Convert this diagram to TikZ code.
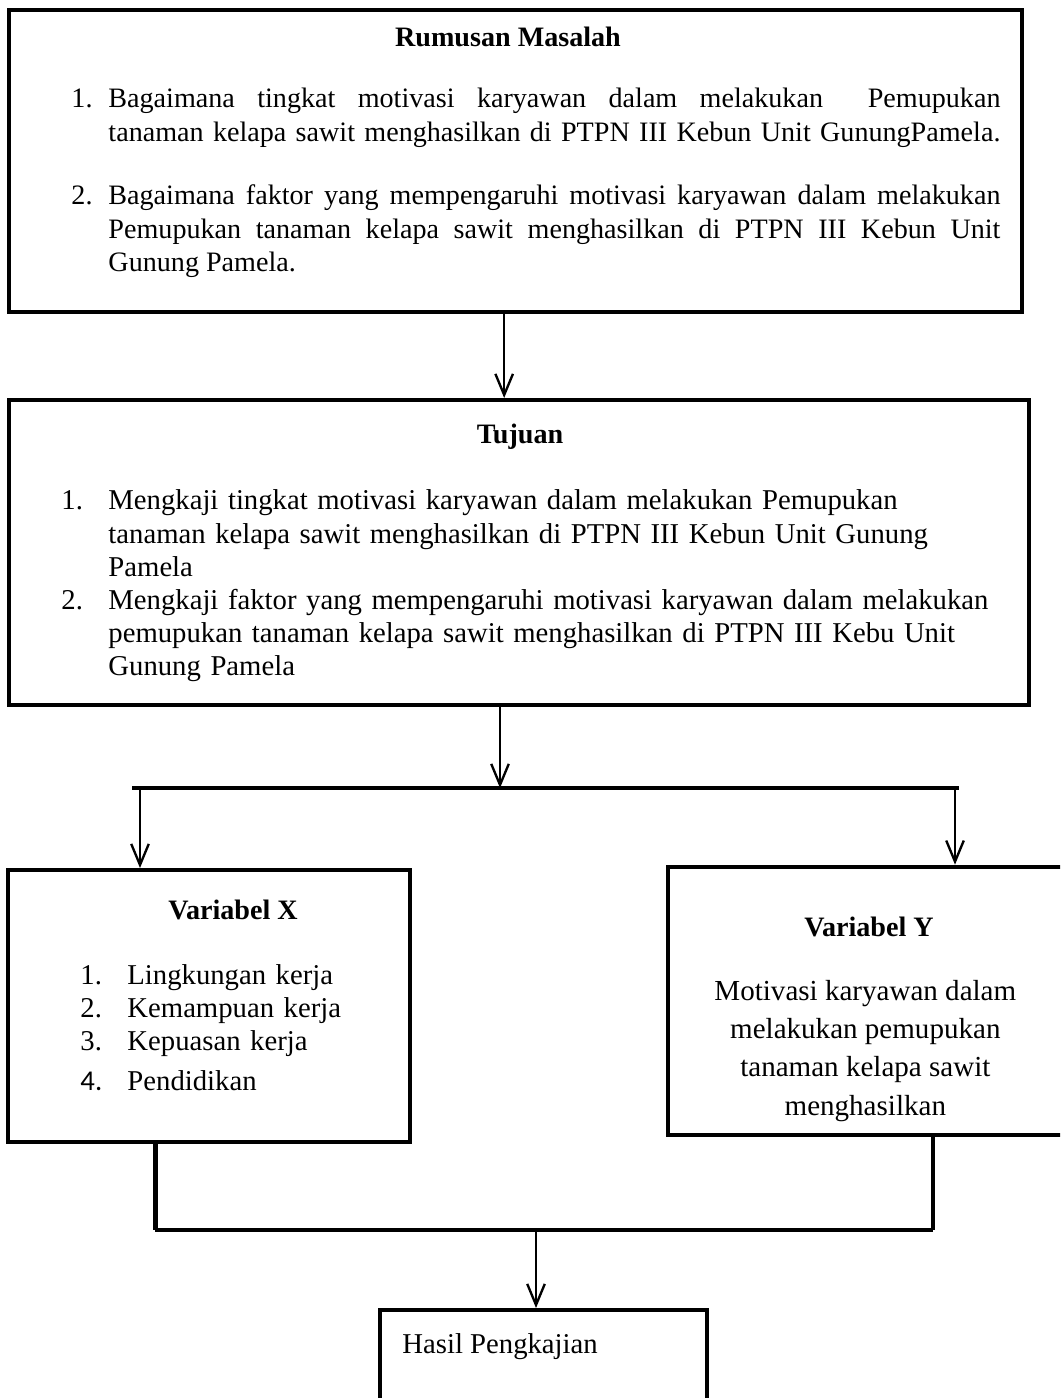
\documentclass[tikz,border=0pt]{standalone}
\usepackage{fontspec}
\setmainfont{Liberation Serif}
\newfontfamily\numfont{Carlito}
\usetikzlibrary{arrows.meta, fit, positioning}
\tikzset{
  box/.style={draw, line width=1.7pt, inner sep=0pt},
  heading/.style={font=\fontsize{12}{14.1}\selectfont\bfseries, inner sep=0pt},
  body/.style={font=\fontsize{12.25}{14.1}\selectfont, inner sep=0pt, align=left},
  arr/.style={line width=1pt, -{Straight Barb[length=9pt, width=7.5pt]}},
  link/.style={line width=1.4pt},
}
\newcommand{\itemno}[2]{\noindent\llap{\makebox[#1][l]{#2}}}
\newcommand{\fullline}[1]{\makebox[13.38cm][s]{#1}}

\begin{document}
\begin{tikzpicture}
\path[use as bounding box, clip] (0,0) rectangle (15.9,-20.97);

% boxes
\node[box, fit={(0.135,-0.15) (15.33,-4.68)}] (rumusan) {};
\node[box, fit={(0.135,-6.0) (15.435,-10.575)}] (tujuan) {};
\node[box, fit={(0.12,-13.05) (6.15,-17.13)}] (varx) {};
\node[box, fit={(10.02,-13.0) (16.2,-17.03)}] (vary) {};
\node[box, fit={(5.7,-19.65) (10.605,-21.6)}] (hasil) {};

% texts
\node[heading, anchor=base] (rmtitle) at (7.62,-0.705) {Rumusan Masalah};
\node[body, font=\fontsize{12}{14.1}\selectfont, align=justify, text width=14.1cm, anchor=base west] (rmlist) at (1.065,-1.62) {%
\parindent=0pt\leftskip=0.555cm
\itemno{0.555cm}{1.}\fullline{Bagaimana tingkat motivasi karyawan dalam melakukan\ \ Pemupukan}\par
\fullline{tanaman kelapa sawit menghasilkan di PTPN III Kebun Unit GunungPamela.}\par
\vspace{13.2pt}
\itemno{0.555cm}{2.}\fullline{Bagaimana faktor yang mempengaruhi motivasi karyawan dalam melakukan}\par
\fullline{Pemupukan tanaman kelapa sawit menghasilkan di PTPN III Kebun Unit}\par
Gunung Pamela.\par};

\node[heading, anchor=base] (tjtitle) at (7.8,-6.66) {Tujuan};
\node[body, text width=14.46cm, anchor=base west] (tjlist) at (0.915,-7.65) {%
\parindent=0pt\leftskip=0.705cm
\itemno{0.705cm}{1.}Mengkaji tingkat motivasi karyawan dalam melakukan Pemupukan\\
tanaman kelapa sawit menghasilkan di PTPN III Kebun Unit Gunung\\
Pamela\par
\itemno{0.705cm}{2.}Mengkaji faktor yang mempengaruhi motivasi karyawan dalam melakukan\\
pemupukan tanaman kelapa sawit menghasilkan di PTPN III Kebu Unit\\
Gunung Pamela\par};

\node[heading, anchor=base] (vxtitle) at (3.495,-13.785) {Variabel X};
\node[body, text width=5cm, anchor=base west] (vxlist) at (1.2,-14.76) {%
\parindent=0pt\leftskip=0.705cm
\itemno{0.705cm}{1.}Lingkungan kerja\par
\itemno{0.705cm}{2.}Kemampuan kerja\par
\itemno{0.705cm}{3.}Kepuasan kerja\par
\vspace{3pt}
\itemno{0.705cm}{\numfont 4.}Pendidikan\par};

\node[heading, anchor=base] (vytitle) at (13.035,-14.04) {Variabel Y};
\node[body, font=\fontsize{12.4}{16.4}\selectfont, text width=5.5cm, align=flush center, anchor=base] (vytext) at (12.98,-15.0) {%
Motivasi karyawan dalam\\ melakukan pemupukan\\ tanaman kelapa sawit\\ menghasilkan};

\node[body, anchor=base west] (hstext) at (6.03,-20.295) {Hasil Pengkajian};

% connectors
\coordinate (split) at (7.5,-11.82);
\coordinate (splitL) at (1.98,-11.82);
\coordinate (splitR) at (14.385,-11.82);
\coordinate (downX) at (2.1,-11.82);
\coordinate (downY) at (14.325,-11.82);
\coordinate (join) at (8.04,-18.45);
\coordinate (joinL) at (2.33,-18.45);
\coordinate (joinR) at (14.0,-18.45);

\draw[arr] ([xshift=-0.17cm]rumusan.south) -- ([xshift=-0.17cm]rumusan.south |- tujuan.north);
\draw[arr] (tujuan.south -| split) -- (split);
\draw[link] (splitL) -- (splitR);
\draw[arr] (downX) -- (downX |- varx.north);
\draw[arr] (downY) -- (downY |- vary.north);
\draw[link, line width=2.1pt] (varx.south -| joinL) -- (joinL);
\draw[link] (joinL) -- (joinR);
\draw[link, line width=1.7pt] (joinR) -- (vary.south -| joinR);
\draw[arr] (join) -- (join |- hasil.north);
\end{tikzpicture}
\end{document}
